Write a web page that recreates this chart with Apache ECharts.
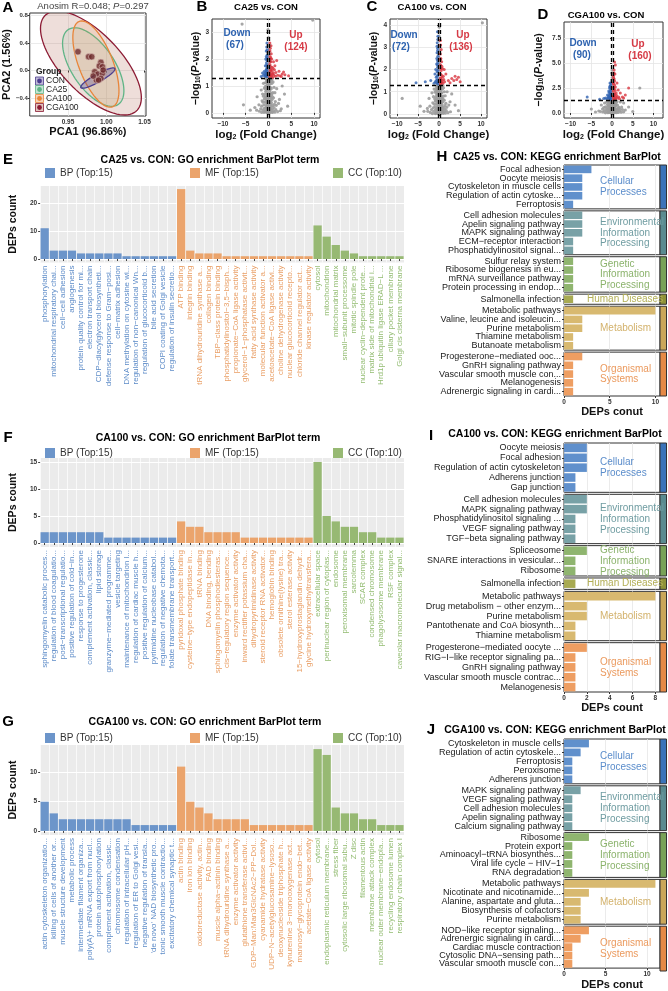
<!DOCTYPE html>
<html><head><meta charset="utf-8">
<script src="https://cdn.jsdelivr.net/npm/echarts@6/dist/echarts.min.js"></script>
<style>html,body{margin:0;padding:0;background:#fff}#c{width:668px;height:991px}</style>
</head><body><div id="c"></div>
<script>
const FONT = 'Liberation Sans, Arial, Helvetica, sans-serif';

// ---------------- Panel A data ----------------
const pcaGroups = ['CON', 'CA25', 'CA100', 'CGA100'];
// ellipse: [cx, cy, ux, uy, vx, vy] (centre + two conjugate semi-axis vectors, data units)
const pcaEllipseCGA100 = [0.980, 0.109, 0.0606, -0.686, 0.026, 0.321];
const pcaEllipseCA25 = [0.983, 0.051, 0.0334, -0.540, 0.0222, 0.190];
const pcaEllipseCA100 = [0.9865, 0.094, 0.0222, -0.6205, 0.0204, 0.102];
const pcaEllipseCON = [0.989, -0.110, 0.0222, 0.139, 0.0025, -0.051];
const pcaPoints = [[0.963,0.274],[0.977,0.201],[0.981,0.201],[0.993,0.119],[0.991,0.065],[0.995,0.055],
  [0.985,-0.018],[0.989,-0.052],[0.995,-0.041],[0.993,-0.114],[0.987,-0.139],[0.990,-0.139],[0.983,-0.081],[0.996,0.007]];
const pcaXTicks = [0.95, 1.00, 1.05];
const pcaYTicks = [-0.4, 0, 0.4, 0.8];

// ---------------- Volcano data ----------------
const pThresh = 1.301, fcThresh = 0.263;
const volXTicks = [-10, -5, 0, 5, 10];
const bYTicks = [0, 1, 2, 3], cYTicks = [0, 1, 2, 3, 4], dYTicks = [0, 2.5, 5, 7.5];
const bCounts = [67, 124], cCounts = [72, 136], dCounts = [90, 160];
const bGray = [[-0.8,0.05],[-0.5,0.03],[-0.2,0.06],[0.1,0.04],[0.4,0.05],[0.7,0.03],[1.1,0.08],[-1.2,0.1],[1.6,0.12],[-1.7,0.15],
 [-0.6,0.2],[-0.3,0.18],[0.0,0.22],[0.3,0.2],[0.6,0.24],[0.9,0.27],[-1.0,0.3],[1.3,0.32],[-2.1,0.3],[2.2,0.35],
 [-0.7,0.4],[-0.4,0.38],[-0.1,0.43],[0.2,0.4],[0.5,0.46],[0.8,0.5],[-0.9,0.52],[1.1,0.56],[-1.4,0.45],[-0.2,0.5],
 [-0.5,0.6],[-0.2,0.62],[0.1,0.64],[0.4,0.6],[0.7,0.68],[-0.8,0.7],[0.95,0.75],[-0.1,0.74],[0.25,0.7],
 [-0.6,0.8],[-0.3,0.84],[0.0,0.88],[0.3,0.82],[0.6,0.9],[-0.9,0.92],[1.2,0.95],[0.15,0.98],
 [-0.5,1.0],[-0.2,1.04],[0.1,1.06],[0.4,1.08],[0.75,1.1],[-0.7,1.12],
 [-0.4,1.16],[-0.1,1.2],[0.2,1.22],[0.5,1.24],[-0.6,1.27],[0.85,1.28],[-0.3,1.29],[0.05,1.26],
 [-0.2,1.45],[0.1,1.55],[-0.1,1.7],[0.2,1.9],[0.0,2.05],[-0.15,2.25],[0.15,2.5],[0.0,2.8],[-0.1,3.1],
 [-5.8,3.3],[9.7,3.45],[-5.5,0.3],[2.4,0.5],[3.5,0.7],[-3.0,0.2],[4.2,0.25],[-2.5,0.6],[2.8,0.15],[-4.0,0.1],[1.8,0.9],[-1.6,0.85],[3.0,1.0],
 [-1.5,0.02],[-1.0,0.02],[-0.3,0.01],[0.0,0.02],[0.3,0.01],[0.9,0.02],[1.4,0.03],[2.0,0.05],[-2.0,0.06],[-2.6,0.1],[2.6,0.08],
 [-0.6,0.1],[-0.1,0.12],[0.25,0.1],[0.55,0.13],[0.85,0.15],[-0.9,0.17],[1.2,0.2],[-1.5,0.25],[1.7,0.28],[-0.45,0.28],[0.45,0.32],
 [-0.05,0.32],[-1.2,0.4],[1.5,0.42],[0.65,0.38],[-0.55,0.5],[0.35,0.55],[0.05,0.55],[-1.1,0.62],[0.85,0.6],[-0.35,0.7],[0.5,0.74],
 [-0.65,0.9],[-0.05,0.96],[0.45,0.94],[-0.35,1.1],[0.3,1.14],[0.65,1.2],[-0.45,1.24],[-0.7,0.98],[1.0,1.15],[-1.1,1.1],[0.0,1.4],[0.12,1.3],
 [-0.15,0.9],[0.2,0.86],[-0.25,0.3],[0.15,0.3],[-0.75,0.6],[0.6,0.55],[-1.3,0.7],[1.4,0.75],[-0.1,1.62],[0.05,1.8],[-0.05,2.15],[0.1,2.35]];
const bDown = [[-0.4,1.35],[-0.6,1.4],[-0.35,1.5],[-0.8,1.45],[-0.5,1.6],[-0.3,1.7],[-0.7,1.75],[-0.45,1.85],[-0.35,1.95],[-0.6,2.0],
 [-0.3,2.15],[-0.5,2.3],[-0.4,2.45],[-1.1,1.4],[-0.9,1.55],[-0.35,2.6],[-1.6,1.35],[-0.55,1.42],[-0.3,1.38],[-0.42,1.62],
 [-0.38,1.78],[-0.32,2.05],[-0.48,2.1],[-0.65,1.5],[-0.28,2.35],[-0.75,1.36],[-1.3,1.48],[-0.33,1.55]];
const bUp = [[0.35,1.35],[0.5,1.4],[0.7,1.38],[0.9,1.45],[1.2,1.4],[1.5,1.36],[2.0,1.4],[2.5,1.38],[3.0,1.45],[3.6,1.42],[4.4,1.38],
 [0.4,1.55],[0.6,1.6],[0.8,1.7],[1.0,1.65],[1.4,1.75],[0.3,1.8],[0.5,1.9],[0.7,2.0],[1.8,1.95],[0.35,2.1],[0.6,2.2],[0.4,2.4],
 [0.3,2.6],[0.55,2.5],[1.1,1.9],[2.3,1.55],[0.45,1.72],[0.9,1.32],[1.6,1.5],[0.32,1.48],[0.38,2.0],
 [0.3,1.4],[0.42,1.62],[0.62,1.45],[0.33,2.3],[0.48,2.05],[0.75,1.55],[1.05,1.48],[1.3,1.6],[0.36,1.92],[2.8,1.35],[3.3,1.52]];
const cGray = [[-0.8,0.05],[-0.4,0.04],[-0.1,0.06],[0.2,0.03],[0.5,0.05],[0.8,0.07],[1.2,0.1],[-1.3,0.12],[1.7,0.15],[-1.8,0.2],
 [-0.6,0.22],[-0.2,0.2],[0.1,0.25],[0.4,0.22],[0.7,0.28],[1.0,0.3],[-1.0,0.33],[1.4,0.38],[-2.2,0.35],[2.3,0.4],
 [-0.7,0.45],[-0.35,0.42],[0.0,0.48],[0.3,0.45],[0.6,0.52],[0.9,0.55],[-0.9,0.58],[1.2,0.62],[-1.5,0.5],
 [-0.5,0.65],[-0.15,0.68],[0.15,0.7],[0.45,0.66],[0.75,0.72],[-0.8,0.76],[1.0,0.8],
 [-0.6,0.85],[-0.25,0.88],[0.05,0.92],[0.35,0.86],[0.65,0.95],[-0.95,0.98],[1.25,1.0],
 [-0.45,1.02],[-0.15,1.06],[0.15,1.08],[0.45,1.1],[0.8,1.12],[-0.7,1.15],
 [-0.35,1.18],[0.0,1.22],[0.25,1.2],[0.55,1.25],[-0.55,1.27],[0.9,1.28],[-0.2,1.29],
 [-0.15,1.45],[0.1,1.6],[-0.05,1.85],[0.15,2.1],[0.0,2.4],[-0.1,2.7],[0.1,3.0],[0.0,3.3],[-0.05,3.7],[0.05,3.9],
 [10.3,4.1],[-8.8,0.7],[-4.5,0.35],[2.6,0.55],[3.8,0.4],[-2.8,0.25],[4.6,0.15],[-2.4,0.7],[3.0,0.9],[-3.6,0.12],[1.9,1.0],[-1.7,0.95],
 [-1.6,0.02],[-0.9,0.02],[-0.25,0.01],[0.05,0.02],[0.35,0.01],[1.0,0.03],[1.5,0.04],[2.1,0.06],[-2.1,0.07],[-2.7,0.12],[2.7,0.1],
 [-0.55,0.12],[-0.05,0.14],[0.3,0.12],[0.6,0.15],[0.9,0.17],[-0.85,0.2],[1.3,0.22],[-1.4,0.28],[1.8,0.3],[-0.4,0.3],[0.5,0.35],
 [0.0,0.34],[-1.2,0.45],[1.6,0.48],[0.7,0.42],[-0.5,0.55],[0.4,0.58],[0.1,0.58],[-1.05,0.68],[0.9,0.66],[-0.3,0.74],[0.55,0.78],
 [-0.6,0.95],[0.0,1.0],[0.4,0.98],[-0.3,1.12],[0.3,1.16],[0.7,1.22],[-0.4,1.26],[-0.75,1.05],[1.05,1.18],[-1.2,1.12],[0.05,1.5],[-0.1,1.3],
 [-0.12,0.9],[0.22,0.82],[-0.2,0.35],[0.2,0.38],[-0.7,0.62],[0.62,0.6],[-1.35,0.78],[1.45,0.82],[-0.1,2.0],[0.08,2.25],[-0.05,2.55],[0.1,2.85],[0.0,3.5]];
const cDown = [[-0.35,1.35],[-0.6,1.4],[-0.9,1.45],[-1.2,1.38],[-0.4,1.55],[-0.7,1.65],[-0.3,1.75],[-0.5,1.9],[-0.8,2.0],[-0.35,2.1],
 [-0.6,2.25],[-0.4,2.4],[-0.3,2.6],[-0.5,2.75],[-0.35,2.95],[-0.45,3.2],[-0.3,3.5],[-0.4,3.7],[-3.3,1.45],[-5.5,1.4],[-2.0,1.5],[-1.0,1.8],[-0.55,2.5],[-0.3,1.42],
 [-0.45,1.7],[-0.32,2.3],[-0.38,2.85],[-0.5,3.05],[-0.65,1.5],[-0.3,1.95],[-0.42,2.2],[-0.33,3.35]];
const cUp = [[0.35,1.35],[0.6,1.42],[0.9,1.38],[1.3,1.45],[0.4,1.55],[0.7,1.65],[1.0,1.7],[0.3,1.8],[0.5,1.95],[0.8,2.05],[0.35,2.2],
 [0.6,2.35],[0.4,2.5],[0.3,2.7],[0.5,2.9],[0.35,3.1],[3.0,1.6],[3.5,1.5],[4.2,1.55],[5.0,1.45],[3.8,1.7],[2.2,1.5],[1.6,1.8],[0.45,1.48],[1.2,2.0],[0.3,3.3],
 [0.32,1.62],[0.55,1.75],[0.75,1.5],[0.42,2.05],[0.33,2.45],[0.65,2.15],[1.1,1.55],[0.38,1.4],[2.6,1.4],[4.6,1.65]];
const dGray = [[-0.8,0.05],[-0.4,0.08],[-0.1,0.04],[0.2,0.07],[0.5,0.05],[0.8,0.1],[1.2,0.12],[-1.3,0.15],[1.8,0.2],[-1.9,0.22],
 [-0.6,0.25],[-0.2,0.3],[0.1,0.28],[0.4,0.32],[0.7,0.35],[1.0,0.4],[-1.0,0.38],[1.5,0.45],[-2.3,0.4],[2.5,0.35],
 [-0.7,0.5],[-0.35,0.55],[0.0,0.6],[0.3,0.52],[0.6,0.65],[0.9,0.7],[-0.9,0.72],[1.3,0.8],[-1.6,0.62],
 [-0.5,0.8],[-0.15,0.85],[0.15,0.9],[0.45,0.82],[0.75,0.95],[-0.8,1.0],[1.0,1.05],
 [-0.6,1.08],[-0.25,1.1],[0.05,1.15],[0.35,1.12],[0.6,1.2],[-0.45,1.22],[0.85,1.25],[-0.2,1.28],
 [-0.15,1.5],[0.1,1.8],[-0.05,2.1],[0.15,2.5],[0.0,2.9],[-0.1,3.3],[0.1,3.8],[0.0,4.3],
 [-11.0,9.2],[6.7,2.5],[-5.0,0.4],[3.2,0.3],[4.0,0.6],[-3.2,0.2],[5.0,0.15],[-2.6,0.8],[2.8,1.0],[-4.0,0.1],[2.0,1.1],[-1.8,1.0],
 [-1.6,0.02],[-1.0,0.03],[-0.3,0.02],[0.05,0.01],[0.4,0.02],[1.0,0.03],[1.5,0.05],[2.2,0.08],[-2.2,0.1],[-2.8,0.15],[2.8,0.12],
 [-0.55,0.15],[-0.05,0.18],[0.3,0.16],[0.6,0.2],[0.95,0.22],[-0.9,0.25],[1.3,0.28],[-1.5,0.35],[1.9,0.38],[-0.4,0.4],[0.5,0.44],
 [0.0,0.42],[-1.2,0.55],[1.6,0.58],[0.7,0.52],[-0.5,0.68],[0.4,0.7],[0.1,0.72],[-1.1,0.85],[0.9,0.85],[-0.3,0.95],[0.55,1.0],
 [-0.65,1.18],[0.0,1.25],[0.45,1.26],[-0.35,0.65],[0.25,1.05],[-1.3,1.1],[1.2,1.15],[-2.0,0.55],[2.3,0.6],[-0.1,1.4],[0.05,1.65],
 [-0.05,2.3],[0.08,2.7],[-0.1,3.1],[0.05,3.55],[-0.08,4.0],[0.12,2.0],[-0.12,1.9]];
const dDown = [[-0.35,1.35],[-0.6,1.4],[-0.9,1.5],[-1.3,1.42],[-0.4,1.6],[-0.7,1.75],[-0.3,1.9],[-0.5,2.0],[-0.8,2.2],[-0.35,2.35],
 [-0.6,2.5],[-0.4,2.7],[-0.3,2.9],[-0.5,3.0],[-1.1,1.8],[-2.0,1.45],[-6.0,1.6],[-3.0,1.38],[-0.3,1.48],
 [-0.45,1.8],[-0.7,2.05],[-0.35,2.15],[-0.55,2.65],[-0.9,1.65],[-0.3,2.55],[-0.65,1.55],[-1.6,1.5]];
const dUp = [[0.35,1.35],[0.6,1.45],[0.9,1.4],[1.3,1.5],[1.8,1.42],[0.4,1.7],[0.7,1.85],[1.0,2.0],[0.3,2.2],[0.5,2.4],[0.8,2.6],
 [0.35,2.9],[0.6,3.2],[0.4,3.5],[0.7,3.9],[0.5,4.3],[0.8,4.8],[0.6,5.1],[4.0,2.5],[3.2,1.8],[2.5,1.6],[1.5,2.3],[0.45,1.55],[2.0,2.0],[1.2,3.0],[0.3,3.0],[0.9,1.6],
 [0.32,1.62],[0.55,1.95],[0.4,2.55],[0.75,2.25],[0.35,3.7],[0.6,2.8],[1.1,1.75],[1.6,1.6],[0.5,3.4],[2.8,1.5],[0.45,4.0]];

// ---------------- GO data ----------------
const goLegend = ['BP (Top:15)', 'MF (Top:15)', 'CC (Top:10)'];
const eBP = ['phosphorylation','mitochondrial respiratory chai...','cell−cell adhesion','angiogenesis','protein quality control for mi...','electron transport chain','CDP−diacylglycerol biosyntheti...','defense response to Gram−posi...','cell−matrix adhesion','DNA methylation on cytosine wi...','regulation of non−canonical Wn...','regulation of glucocorticoid b...','bile acid secretion','COPI coating of Golgi vesicle','regulation of insulin secretio...'];
const eBPv = [11,3,3,3,2,2,2,2,2,1,1,1,1,1,1];
const eMF = ['ATP binding','integrin binding','tRNA dihydrouridine synthase a...','collagen binding','TBP−class protein binding','phosphatidylinositol−3,5−bisph...','propionate−CoA ligase activity','glycerol−1−phosphatase activit...','fatty acid synthase activity','molecular function activator a...','acetoacetate−CoA ligase activi...','choline dehydrogenase activity','nuclear glucocorticoid recepto...','chloride channel regulator act...','kinase regulator activity'];
const eMFv = [25,3,2,2,2,1,1,1,1,1,1,1,1,1,1];
const eCC = ['cytosol','mitochondrion','mitochondrial matrix','small−subunit processome','mitotic spindle pole','nuclear cyclin−dependent prote...','matrix side of mitochondrial i...','Hrd1p ubiquitin ligase ERAD−L ...','ciliary pocket membrane','Golgi cis cisterna membrane'];
const eCCv = [12,8,5,3,2,1,1,1,1,1];
const eYTicks = [0, 10, 20];

const fBP = ['sphingomyelin catabolic proces...','regulation of blood coagulatio...','post−transcriptional regulatio...','positive regulation of cold−in...','response to progesterone','complement activation, classic...','lipid storage','granzyme−mediated programme...','vesicle targeting','maintenance of mitochondrion l...','regulation of cardiac muscle h...','positive regulation of calcium...','pyrimidine nucleobase catabol...','regulation of negative chemota...','folate transmembrane transport...'];
const fBPv = [2,2,2,2,2,2,2,1,1,1,1,1,1,1,1];
const fMF = ['pyridoxal phosphate binding','cysteine−type endopeptidase in...','tRNA binding','DNA binding, bending','sphingomyelin phosphodiesteras...','cis−regulatory region sequence...','enzyme activator activity','inward rectifier potassium cha...','dihydropyrimidinase activity','steroid receptor RNA activator...','hemoglobin binding','obsolete ornithine(lysine) tra...','sterol esterase activity','15−hydroxyprostaglandin dehydr...','glycine hydroxymethyltransfera...'];
const fMFv = [4,3,3,2,2,2,2,1,1,1,1,1,1,1,1];
const fCC = ['extracellular space','perinuclear region of cytoplas...','endosome','peroxisomal membrane','sarcolemma','SCAR complex','condensed chromosome','phagolysosome membrane','RSF complex','caveolar macromolecular signal...'];
const fCCv = [15,5,4,3,3,2,2,1,1,1];
const fYTicks = [0, 5, 10, 15];

const gBP = ['actin cytoskeleton organizatio...','killing of cells of another or...','muscle structure development','metabolic process','intermediate filament organiza...','poly(A)+ mRNA export from nucl...','protein autophosphorylation','complement activation, classic...','chromosome condensation','regulation of intracellular pH...','regulation of ER to Golgi vesi...','negative regulation of transla...',"'de novo' NAD biosynthetic pro...",'tonic smooth muscle contractio...','excitatory chemical synaptic t...'];
const gBPv = [5,3,2,2,2,2,2,2,2,2,1,1,1,1,1];
const gMF = ['actin binding','iron ion binding','oxidoreductase activity, actin...','FAD binding','muscle alpha−actinin binding','tRNA dihydrouridine synthase a...','enzyme activator activity','glutathione transferase activi...','GDP−Man:Man3GlcNAc2−PP−Dol...','cyanamide hydratase activity','UDP−N−acetylglucosamine−lysoso...','deoxynucleoside triphosphate h...','kynurenine 3−monooxygenase act...','mannosyl−glycoprotein endo−bet...','acetate−CoA ligase activity'];
const gMFv = [11,5,4,3,2,2,2,2,1,1,1,1,1,1,1];
const gCC = ['cytosol','endoplasmic reticulum membrane...','stress fiber','cytosolic large ribosomal subu...','Z disc','filamentous actin','membrane attack complex','nuclear outer membrane−endopla...','recycling endosome lumen','respiratory chain complex I'];
const gCCv = [14,13,4,3,3,2,2,1,1,1];
const gYTicks = [0, 5, 10];

// ---------------- KEGG data ----------------
const keggFacetsFull = ['Cellular Processes','Environmental Information Processing','Genetic Information Processing','Human Diseases','Metabolism','Organismal Systems'];
const keggFacetsNoHD = ['Cellular Processes','Environmental Information Processing','Genetic Information Processing','Metabolism','Organismal Systems'];
const keggFacetText = {'Cellular Processes':'Cellular\nProcesses','Environmental Information Processing':'Environmental\nInformation\nProcessing','Genetic Information Processing':'Genetic\nInformation\nProcessing','Human Diseases':'Human Diseases','Metabolism':'Metabolism','Organismal Systems':'Organismal\nSystems'};
const hTerms = [['Focal adhesion','Oocyte meiosis','Cytoskeleton in muscle cells','Regulation of actin cytoske...','Ferroptosis'],
 ['Cell adhesion molecules','Apelin signaling pathway','MAPK signaling pathway','ECM−receptor interaction','Phosphatidylinositol signal...'],
 ['Sulfur relay system','Ribosome biogenesis in eu...','mRNA surveillance pathway','Protein processing in endop...'],
 ['Salmonella infection'],
 ['Metabolic pathways','Valine, leucine and isoleucin...','Purine metabolism','Thiamine metabolism','Butanoate metabolism'],
 ['Progesterone−mediated ooc...','GnRH signaling pathway','Vascular smooth muscle con...','Melanogenesis','Adrenergic signaling in cardi...']];
const hCounts = [[3,2,2,2,1],[2,2,2,1,1],[1,1,1,1],[1],[10,2,2,1,1],[2,1,1,1,1]];
const iTerms = [['Oocyte meiosis','Focal adhesion','Regulation of actin cytoskeleton','Adherens junction','Gap junction'],
 ['Cell adhesion molecules','MAPK signaling pathway','Phosphatidylinositol signaling ...','VEGF signaling pathway','TGF−beta signaling pathway'],
 ['Spliceosome','SNARE interactions in vesicular...','Ribosome'],
 ['Salmonella infection'],
 ['Metabolic pathways','Drug metabolism − other enzym...','Purine metabolism','Pantothenate and CoA biosynth...','Thiamine metabolism'],
 ['Progesterone−mediated oocyte ...','RIG−I−like receptor signaling pa...','GnRH signaling pathway','Vascular smooth muscle contrac...','Melanogenesis']];
const iCounts = [[2,2,2,1,1],[2,2,1,1,1],[2,1,1],[1],[8,2,2,1,1],[2,1,1,1,1]];
const jTerms = [['Cytoskeleton in muscle cells','Regulation of actin cytoskele...','Ferroptosis','Peroxisome','Adherens junction'],
 ['MAPK signaling pathway','VEGF signaling pathway','Cell adhesion molecules','Apelin signaling pathway','Calcium signaling pathway'],
 ['Ribosome','Protein export','Aminoacyl−tRNA biosynthes...','Viral life cycle − HIV−1','RNA degradation'],
 ['Metabolic pathways','Nicotinate and nicotinamide...','Alanine, aspartate and gluta...','Biosynthesis of cofactors','Purine metabolism'],
 ['NOD−like receptor signaling...','Adrenergic signaling in cardi...','Cardiac muscle contraction','Cytosolic DNA−sensing path...','Vascular smooth muscle con...']];
const jCounts = [[3,2,1,1,1],[2,1,1,1,1],[3,1,1,1,1],[11,3,2,2,2],[3,2,1,1,1]];

// ---------------- styles ----------------
const pcaStyle = {
  CON: {stroke:'#4B3C8E', fill:'rgba(75,60,142,0.30)'},
  CA25: {stroke:'#5FB486', fill:'rgba(95,180,134,0.10)'},
  CA100: {stroke:'#E8853A', fill:'rgba(232,133,58,0.14)'},
  CGA100: {stroke:'#8C1B34', fill:'rgba(170,90,70,0.20)'}
};
const goColor = {bar:['#6C95CA','#EBA46C','#97B973'], label:['#5E8CC8','#E99F66','#93BC72']};
const keggStyle = {
  'Cellular Processes': {bar:'#6090CC', strip:'#3B73B9', text:'#5B8DCB'},
  'Environmental Information Processing': {bar:'#78A1A6', strip:'#5A8B90', text:'#6F9CA1'},
  'Genetic Information Processing': {bar:'#8FB56F', strip:'#78A257', text:'#8BB36C'},
  'Human Diseases': {bar:'#A8AA52', strip:'#8E9238', text:'#B3AF55'},
  'Metabolism': {bar:'#D8B970', strip:'#C9A75A', text:'#D3B26C'},
  'Organismal Systems': {bar:'#EE9E62', strip:'#E58A47', text:'#EB9A5E'}
};

const grid = [], xAxis = [], yAxis = [], series = [], graphic = [], legend = [];
const minus = v => (v < 0 ? '−' : '') + Math.abs(v);

function txt(x, y, text, o) {
  o = o || {};
  graphic.push({type:'text', x:x, y:y, rotation:o.rot || 0, silent:true, z:100,
    style:{text:text, fontFamily:FONT, fontSize:o.size || 10, fontWeight:o.bold ? 'bold' : 'normal',
      fontStyle:o.italic ? 'italic' : 'normal', fill:o.color || '#000',
      align:o.align || 'center', verticalAlign:o.va || 'middle', textAlign:o.align || 'center', textVerticalAlign:o.va || 'middle',
      lineHeight:o.lh || undefined, rich:o.rich || undefined}});
}

// ================= Panel A =================
(function () {
  const gi = grid.length;
  grid.push({left:23, top:13, width:123, height:103, show:true, backgroundColor:'#fff', borderColor:'#333', borderWidth:1});
  xAxis.push({gridIndex:gi, type:'value', min:0.9, max:1.052,
    axisLine:{show:false}, axisTick:{show:true, length:2, customValues:pcaXTicks, lineStyle:{color:'#333'}},
    axisLabel:{customValues:pcaXTicks, fontSize:6.5, fontWeight:'bold', color:'#333', margin:3, fontFamily:FONT, formatter:v => v.toFixed(2)},
    splitLine:{show:true, lineStyle:{color:'#E6E6E6', width:0.8}},
    name:'PCA1 (96.86%)', nameLocation:'middle', nameGap:10,
    nameTextStyle:{fontFamily:FONT, fontSize:11, fontWeight:'bold', color:'#111'}});
  yAxis.push({gridIndex:gi, type:'value', min:-0.663, max:0.839,
    axisLine:{show:false}, axisTick:{show:true, length:2, customValues:pcaYTicks, lineStyle:{color:'#333'}},
    axisLabel:{customValues:pcaYTicks, fontSize:6, fontWeight:'bold', color:'#333', margin:2, fontFamily:FONT,
      formatter:v => (v < 0 ? '−' : '') + Math.abs(v).toFixed(1)},
    splitLine:{show:true, lineStyle:{color:'#E6E6E6', width:0.8}},
    name:'PCA2 (1.56%)', nameLocation:'middle', nameGap:10,
    nameTextStyle:{fontFamily:FONT, fontSize:11, fontWeight:'bold', color:'#111'}});
  const ell = [pcaEllipseCGA100, pcaEllipseCA25, pcaEllipseCA100, pcaEllipseCON];
  const ellNames = ['CGA100', 'CA25', 'CA100', 'CON'];
  series.push({type:'custom', xAxisIndex:gi, yAxisIndex:gi, data:ell, encode:{x:0, y:1}, silent:true, clip:true,
    renderItem:function (params, api) {
      const v = [0,1,2,3,4,5].map(i => api.value(i));
      const pts = [];
      for (let k = 0; k <= 90; k++) {
        const t = k / 90 * Math.PI * 2;
        pts.push(api.coord([v[0] + v[2] * Math.cos(t) + v[4] * Math.sin(t), v[1] + v[3] * Math.cos(t) + v[5] * Math.sin(t)]));
      }
      const s = pcaStyle[ellNames[params.dataIndex]];
      return {type:'polygon', shape:{points:pts}, style:{fill:s.fill, stroke:s.stroke, lineWidth:1.3}};
    }});
  series.push({type:'scatter', xAxisIndex:gi, yAxisIndex:gi, data:pcaPoints, symbolSize:6.5, silent:true, z:5,
    itemStyle:{color:'#6E2A2C', borderColor:'#D9BDB6', borderWidth:0.8}});
  txt(36, 72, 'Group', {size:8.5, bold:true, align:'left', color:'#222'});
  const ky = [81, 89.5, 98.5, 107.5];
  pcaGroups.forEach((g, i) => {
    const s = pcaStyle[g];
    graphic.push({type:'rect', silent:true, z:99, shape:{x:35.5, y:ky[i] - 4, width:8, height:8}, style:{fill:s.fill.replace(/0\.\d+\)$/, '0.35)'), stroke:s.stroke, lineWidth:0.8}});
    graphic.push({type:'circle', silent:true, z:100, shape:{cx:39.5, cy:ky[i], r:2.4}, style:{fill:s.stroke}});
    txt(46, ky[i], g, {size:8.5, align:'left', color:'#222'});
  });
  txt(93, 6, 'Anosim R=0.048; {i|P}=0.297', {size:9.5, color:'#444', rich:{i:{fontStyle:'italic', fontSize:9.5, fill:'#444', fontFamily:FONT}}});
  txt(8, 8, 'A', {size:15, bold:true});
})();

// ================= Volcano panels =================
function volcano(box, xr, yr, yTicks, yFmt, gray, down, up, nameGap) {
  const gi = grid.length;
  grid.push({left:box[0], top:box[1], width:box[2] - box[0], height:box[3] - box[1], show:true, backgroundColor:'#fff', borderColor:'#333', borderWidth:1});
  xAxis.push({gridIndex:gi, type:'value', min:xr[0], max:xr[1],
    axisLine:{show:false}, axisTick:{show:true, length:2, customValues:volXTicks, lineStyle:{color:'#333'}},
    axisLabel:{customValues:volXTicks, fontSize:6.5, fontWeight:'bold', color:'#333', margin:3, fontFamily:FONT, formatter:minus},
    splitLine:{show:true, lineStyle:{color:'#E4E4E4', width:0.8}},
    name:'log{s|2} (Fold Change)', nameLocation:'middle', nameGap:10,
    nameTextStyle:{fontFamily:FONT, fontSize:11.5, fontWeight:'bold', color:'#111',
      rich:{s:{fontFamily:FONT, fontSize:7, fontWeight:'bold', color:'#111', verticalAlign:'bottom', lineHeight:8}}}});
  yAxis.push({gridIndex:gi, type:'value', min:yr[0], max:yr[1],
    axisLine:{show:false}, axisTick:{show:true, length:2, customValues:yTicks, lineStyle:{color:'#333'}},
    axisLabel:{customValues:yTicks, fontSize:6.5, fontWeight:'bold', color:'#333', margin:3, fontFamily:FONT, formatter:yFmt},
    splitLine:{show:true, lineStyle:{color:'#E4E4E4', width:0.8}},
    name:'−log{s|10}({i|P}-value)', nameLocation:'middle', nameGap:nameGap,
    nameTextStyle:{fontFamily:FONT, fontSize:10.5, fontWeight:'bold', color:'#111',
      rich:{s:{fontFamily:FONT, fontSize:6.5, fontWeight:'bold', color:'#111', verticalAlign:'bottom', lineHeight:8},
            i:{fontFamily:FONT, fontSize:10.5, fontWeight:'bold', fontStyle:'italic', color:'#111'}}}});
  series.push({type:'scatter', xAxisIndex:gi, yAxisIndex:gi, data:gray, symbolSize:3.2, silent:true, itemStyle:{color:'#9C9C9C', opacity:0.9}});
  series.push({type:'scatter', xAxisIndex:gi, yAxisIndex:gi, data:down, symbolSize:3, silent:true, itemStyle:{color:'#2F62B0'}});
  series.push({type:'scatter', xAxisIndex:gi, yAxisIndex:gi, data:up, symbolSize:3, silent:true, itemStyle:{color:'#D8343F'},
    markLine:{symbol:'none', silent:true, animation:false, label:{show:false},
      lineStyle:{color:'#000', type:[4, 3], width:1.3},
      data:[{yAxis:pThresh}, {xAxis:-fcThresh}, {xAxis:fcThresh}]}});
}
const fmt1 = v => String(v);
const fmtD = v => v.toFixed(1);
volcano([212, 19, 320, 118], [-12.4, 11.3], [-0.19, 3.49], bYTicks, fmt1, bGray, bDown, bUp, 10);
volcano([390, 19, 487, 118], [-11.7, 11.4], [-0.18, 4.27], cYTicks, fmt1, cGray, cDown, cUp, 10);
volcano([564, 22, 663, 118], [-11.6, 12.3], [-0.5, 9.1], dYTicks, fmtD, dGray, dDown, dUp, 19);
txt(202, 7, 'B', {size:15, bold:true});
txt(266, 7, 'CA25 vs. CON', {size:9.5, bold:true});
txt(237, 33, 'Down', {size:10, bold:true, color:'#2E63B0'});
txt(235, 45, '(' + bCounts[0] + ')', {size:10, bold:true, color:'#2E63B0'});
txt(296, 35, 'Up', {size:10, bold:true, color:'#D63A45'});
txt(296, 47, '(' + bCounts[1] + ')', {size:10, bold:true, color:'#D63A45'});
txt(372, 7, 'C', {size:15, bold:true});
txt(432, 7, 'CA100 vs. CON', {size:9.5, bold:true});
txt(404, 35, 'Down', {size:10, bold:true, color:'#2E63B0'});
txt(401, 47, '(' + cCounts[0] + ')', {size:10, bold:true, color:'#2E63B0'});
txt(463, 35, 'Up', {size:10, bold:true, color:'#D63A45'});
txt(461, 47, '(' + cCounts[1] + ')', {size:10, bold:true, color:'#D63A45'});
txt(543, 15, 'D', {size:15, bold:true});
txt(606, 15, 'CGA100 vs. CON', {size:9.5, bold:true});
txt(583, 43, 'Down', {size:10, bold:true, color:'#2E63B0'});
txt(582, 55, '(' + dCounts[0] + ')', {size:10, bold:true, color:'#2E63B0'});
txt(638, 44, 'Up', {size:10, bold:true, color:'#D63A45'});
txt(640, 56, '(' + dCounts[1] + ')', {size:10, bold:true, color:'#D63A45'});

// ================= GO panels =================
function goChart(box, bp, bpv, mf, mfv, cc, ccv, yr, yTicks, legTop) {
  const gi = grid.length;
  const cats = bp.concat(mf, cc);
  const nb = bp.length, nm = mf.length, nc = cc.length;
  grid.push({left:box[0], top:box[1], width:box[2] - box[0], height:box[3] - box[1], show:true, backgroundColor:'#EBEBEB', borderWidth:0});
  xAxis.push({gridIndex:gi, type:'category', data:cats,
    axisLine:{show:false}, axisTick:{show:true, alignWithLabel:true, length:2, lineStyle:{color:'#444'}},
    axisLabel:{interval:0, rotate:90, fontSize:8, margin:3, fontFamily:FONT,
      color:(v, i) => i < nb ? goColor.label[0] : (i < nb + nm ? goColor.label[1] : goColor.label[2])},
    splitLine:{show:true, interval:0, lineStyle:{color:'#FFFFFF', width:0.7}}});
  yAxis.push({gridIndex:gi, type:'value', min:yr[0], max:yr[1],
    axisLine:{show:false}, axisTick:{show:true, length:2, customValues:yTicks, lineStyle:{color:'#444'}},
    axisLabel:{customValues:yTicks, fontSize:6.5, fontWeight:'bold', color:'#333', margin:3, fontFamily:FONT},
    splitLine:{show:true, lineStyle:{color:'#FFFFFF', width:1}},
    name:'DEPs count', nameLocation:'middle', nameGap:13,
    nameTextStyle:{fontFamily:FONT, fontSize:10.5, fontWeight:'bold', color:'#111'}});
  const pad = n => Array(n).fill('-');
  series.push({name:goLegend[0], type:'bar', stack:'go' + gi, xAxisIndex:gi, yAxisIndex:gi, data:bpv.concat(pad(nm + nc)), barCategoryGap:'9%', silent:true, itemStyle:{color:goColor.bar[0]}});
  series.push({name:goLegend[1], type:'bar', stack:'go' + gi, xAxisIndex:gi, yAxisIndex:gi, data:pad(nb).concat(mfv, pad(nc)), barCategoryGap:'9%', silent:true, itemStyle:{color:goColor.bar[1]}});
  series.push({name:goLegend[2], type:'bar', stack:'go' + gi, xAxisIndex:gi, yAxisIndex:gi, data:pad(nb + nm).concat(ccv), barCategoryGap:'9%', silent:true, itemStyle:{color:goColor.bar[2]}});
  const lx = [45, 190, 333];
  goLegend.forEach((n, k) => legend.push({data:[n], left:lx[k], top:legTop, padding:0, itemWidth:10, itemHeight:10, itemGap:5, icon:'rect',
    selectedMode:false, textStyle:{fontFamily:FONT, fontSize:10, color:'#333'}}));
}
goChart([26, 186, 404, 262.5], eBP, eBPv, eMF, eMFv, eCC, eCCv, [-1.25, 26.1], eYTicks, 168);
goChart([26, 458, 404, 547], fBP, fBPv, fMF, fMFv, fCC, fCCv, [-0.74, 15.74], fYTicks, 448);
goChart([26, 745, 404, 835], gBP, gBPv, gMF, gMFv, gCC, gCCv, [-0.7, 14.7], gYTicks, 733);
txt(8, 160, 'E', {size:15, bold:true});
txt(210, 160, 'CA25 vs. CON: GO enrichment BarPlot term', {size:10.5, bold:true});
txt(8, 438, 'F', {size:15, bold:true});
txt(208, 438, 'CA100 vs. CON: GO enrichment BarPlot term', {size:10.5, bold:true});
txt(8, 722, 'G', {size:15, bold:true});
txt(205, 722, 'CGA100 vs. CON: GO enrichment BarPlot term', {size:10.5, bold:true});

// ================= KEGG panels =================
function kegg(top, bottom, facets, terms, counts, xmax, xTicks, xName, lh) {
  const F = facets.length;
  const nTot = terms.reduce((a, t) => a + t.length, 0);
  const gap = 2;
  const u = (bottom - top - gap * (F - 1)) / (nTot + 0.2 * F);
  let y = top;
  facets.forEach((f, k) => {
    const h = (terms[k].length + 0.2) * u;
    const gi = grid.length;
    const last = k === F - 1;
    const st = keggStyle[f];
    grid.push({left:564, top:y, width:96, height:h, show:true, backgroundColor:'#fff', borderColor:'#333', borderWidth:1});
    xAxis.push({gridIndex:gi, type:'value', min:0, max:xmax,
      axisLine:{show:false}, axisTick:{show:last, length:2, customValues:xTicks, lineStyle:{color:'#333'}},
      axisLabel:{show:last, customValues:xTicks, fontSize:6.5, fontWeight:'bold', color:'#333', margin:3, fontFamily:FONT},
      splitLine:{show:true, lineStyle:{color:'#E6E6E6', width:0.8}},
      name:last ? xName : '', nameLocation:'middle', nameGap:9,
      nameTextStyle:{fontFamily:FONT, fontSize:11, fontWeight:'bold', color:'#111'}});
    yAxis.push({gridIndex:gi, type:'category', inverse:true, data:terms[k],
      axisLine:{show:false}, axisTick:{show:true, alignWithLabel:true, length:2, lineStyle:{color:'#333'}},
      axisLabel:{interval:0, fontSize:9, color:'#1A1A1A', margin:3, fontFamily:FONT},
      splitLine:{show:false}});
    series.push({type:'bar', xAxisIndex:gi, yAxisIndex:gi, data:counts[k], barWidth:0.9 * u, silent:true, itemStyle:{color:st.bar}});
    graphic.push({type:'rect', silent:true, z:50, shape:{x:660, y:y, width:6.5, height:h}, style:{fill:st.strip, stroke:'#333', lineWidth:1}});
    txt(f === 'Human Diseases' ? 587 : 600, y + h / 2, keggFacetText[f], {size:10, align:'left', color:st.text, lh:lh});
    y += h + gap;
  });
}
kegg(165, 396, keggFacetsFull, hTerms, hCounts, 10.5, [0, 5, 10], 'DEPs conut', 10.5);
kegg(443, 692, keggFacetsFull, iTerms, iCounts, 8.4, [0, 2, 4, 6, 8], 'DEPs count', 11);
kegg(739, 971, keggFacetsNoHD, jTerms, jCounts, 11.55, [0, 5, 10], 'DEPs conut', 11);
txt(442, 157, 'H', {size:15, bold:true});
txt(557, 157, 'CA25 vs. CON: KEGG enrichment BarPlot', {size:10.5, bold:true});
txt(431, 436, 'I', {size:15, bold:true});
txt(555, 434, 'CA100 vs. CON: KEGG enrichment BarPlot', {size:10.5, bold:true});
txt(431, 730, 'J', {size:15, bold:true});
txt(555, 730, 'CGA100 vs. CON: KEGG enrichment BarPlot', {size:10.5, bold:true});

const chart = echarts.init(document.getElementById('c'), null, {renderer:'canvas', width:668, height:991});
chart.setOption({animation:false, backgroundColor:'#fff', textStyle:{fontFamily:FONT},
  grid:grid, xAxis:xAxis, yAxis:yAxis, series:series, legend:legend, graphic:graphic});
</script></body></html>
